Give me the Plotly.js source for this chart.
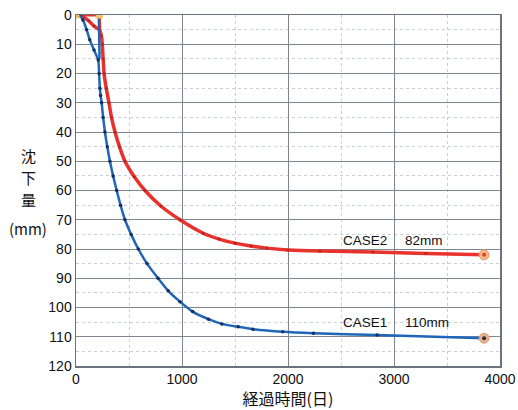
<!DOCTYPE html>
<html><head><meta charset="utf-8">
<script src="https://cdn.plot.ly/plotly-3.0.1.min.js"></script>
<style>html,body{margin:0;padding:0;background:#fff}#c{width:518px;height:410px}</style>
</head><body><div id="c"></div>
<script>
// CASE1 (blue)
const case1Days = [0, 30, 65, 100, 130, 170, 210, 218, 225, 232, 242, 256, 273, 295, 320, 350, 384, 420, 462, 520, 588, 670, 774, 870, 981, 1100, 1250, 1375, 1530, 1670, 1950, 2240, 2840, 3850];
const case1Settle = [0, 0, 1.7, 5, 8.5, 12, 15.4, 20, 25, 27.5, 30, 35, 40, 45, 50, 55, 60, 65, 70, 75, 80, 85, 90, 94.3, 98, 101.4, 104, 105.6, 106.6, 107.4, 108.3, 108.8, 109.4, 110.5];
const case1StepDays = [215, 222];
const case1StepSettle = [0, 15];
// CASE2 (red)
const case2Days = [0, 60, 120, 170, 220, 238, 248, 256, 265, 285, 311, 335, 368, 410, 462, 550, 651, 800, 981, 1200, 1350, 1500, 1650, 1800, 2000, 2300, 2800, 3300, 3850];
const case2Settle = [0, 0.5, 2, 3.8, 5, 7, 10, 15, 20, 25, 30, 35, 40, 45, 50, 55.3, 60, 65.3, 70, 74.6, 76.6, 78, 79, 79.7, 80.3, 80.7, 81, 81.5, 82];
const case2StepDays = [0, 220, 225];
const case2StepSettle = [0, 0, 5];
const startDays = [0, 220];
const startSettle = [0, 0];
const endDays = [3850, 3850];
const endSettle = [82, 110.5];
const labels = ["CASE2　 82mm", "CASE1　 110mm"];
const labelY = [77, 105];
const yTitleParts = ["沈", "下", "量", "(mm)"];
const xTicks = [0, 1000, 2000, 3000, 4000];
const yTicks = [0, 10, 20, 30, 40, 50, 60, 70, 80, 90, 100, 110, 120];

const blue = '#1f66b8', red = '#e8322b';
const traces = [
  {x: case2StepDays, y: case2StepSettle, mode: 'lines', line: {color: red, width: 3}, hoverinfo: 'skip'},
  {x: case2Days, y: case2Settle, mode: 'lines+markers', line: {color: red, width: 3.5, shape: 'spline', smoothing: 0.5},
   marker: {size: 3, color: '#b82424'}},
  {x: case1StepDays, y: case1StepSettle, mode: 'lines', line: {color: blue, width: 2.5}, hoverinfo: 'skip'},
  {x: case1Days, y: case1Settle, mode: 'lines+markers', line: {color: blue, width: 2.5, shape: 'spline', smoothing: 0.5},
   marker: {size: 3.5, color: '#14305e'}},
  {x: startDays, y: startSettle, mode: 'markers', marker: {size: 7, color: '#f2c46a', symbol: 'square'}},
  {x: endDays, y: endSettle, mode: 'markers', marker: {size: 10, color: ['#f4b98a', '#e8b090'], line: {color: '#e89a70', width: 1}}},
  {x: endDays, y: endSettle, mode: 'markers', marker: {size: 4, color: ['#e0402a', '#2a2a40']}}
];

const yTitleY = [0.601, 0.536, 0.473, 0.393];
const annotations = yTitleParts.map((t, i) => ({
  xref: 'paper', yref: 'paper', x: -0.113, y: yTitleY[i], xanchor: 'center', yanchor: 'middle', showarrow: false,
  text: t, font: {size: 15, family: 'Noto Sans CJK JP', color: '#111'}
}));
labels.forEach((t, i) => annotations.push({
  x: 2500, y: labelY[i], xanchor: 'left', yanchor: 'middle', showarrow: false, text: t, font: {size: 13.5, color: '#111'}
}));

const layout = {
  width: 518, height: 410,
  margin: {l: 76, r: 18, t: 15, b: 44},
  showlegend: false,
  paper_bgcolor: '#fff', plot_bgcolor: '#fff',
  font: {family: 'Liberation Sans, Arial, sans-serif', color: '#111', size: 14},
  xaxis: {range: [0, 4000], tickvals: xTicks, ticktext: xTicks.map(String), ticks: '',
    showgrid: true, gridcolor: '#7d8792', gridwidth: 1, zeroline: false,
    showline: true, linecolor: '#6a7480', linewidth: 1.5, mirror: true,
    minor: {dtick: 500, showgrid: true, gridcolor: '#c8cfd8', griddash: 'dot', gridwidth: 1},
    tickfont: {size: 14},
    title: {text: '経過時間(日)', font: {size: 16, family: 'Noto Sans CJK JP'}, standoff: 4}},
  yaxis: {range: [120, 0], tickvals: yTicks, ticktext: yTicks.map(String), ticks: '',
    showgrid: true, gridcolor: '#7d8792', gridwidth: 1, zeroline: false,
    showline: true, linecolor: '#6a7480', linewidth: 1.5, mirror: true,
    minor: {dtick: 5, showgrid: true, gridcolor: '#c8cfd8', griddash: 'dot', gridwidth: 1},
    tickfont: {size: 14}},
  annotations: annotations
};
Plotly.newPlot('c', traces, layout, {displayModeBar: false, staticPlot: true});
</script></body></html>
